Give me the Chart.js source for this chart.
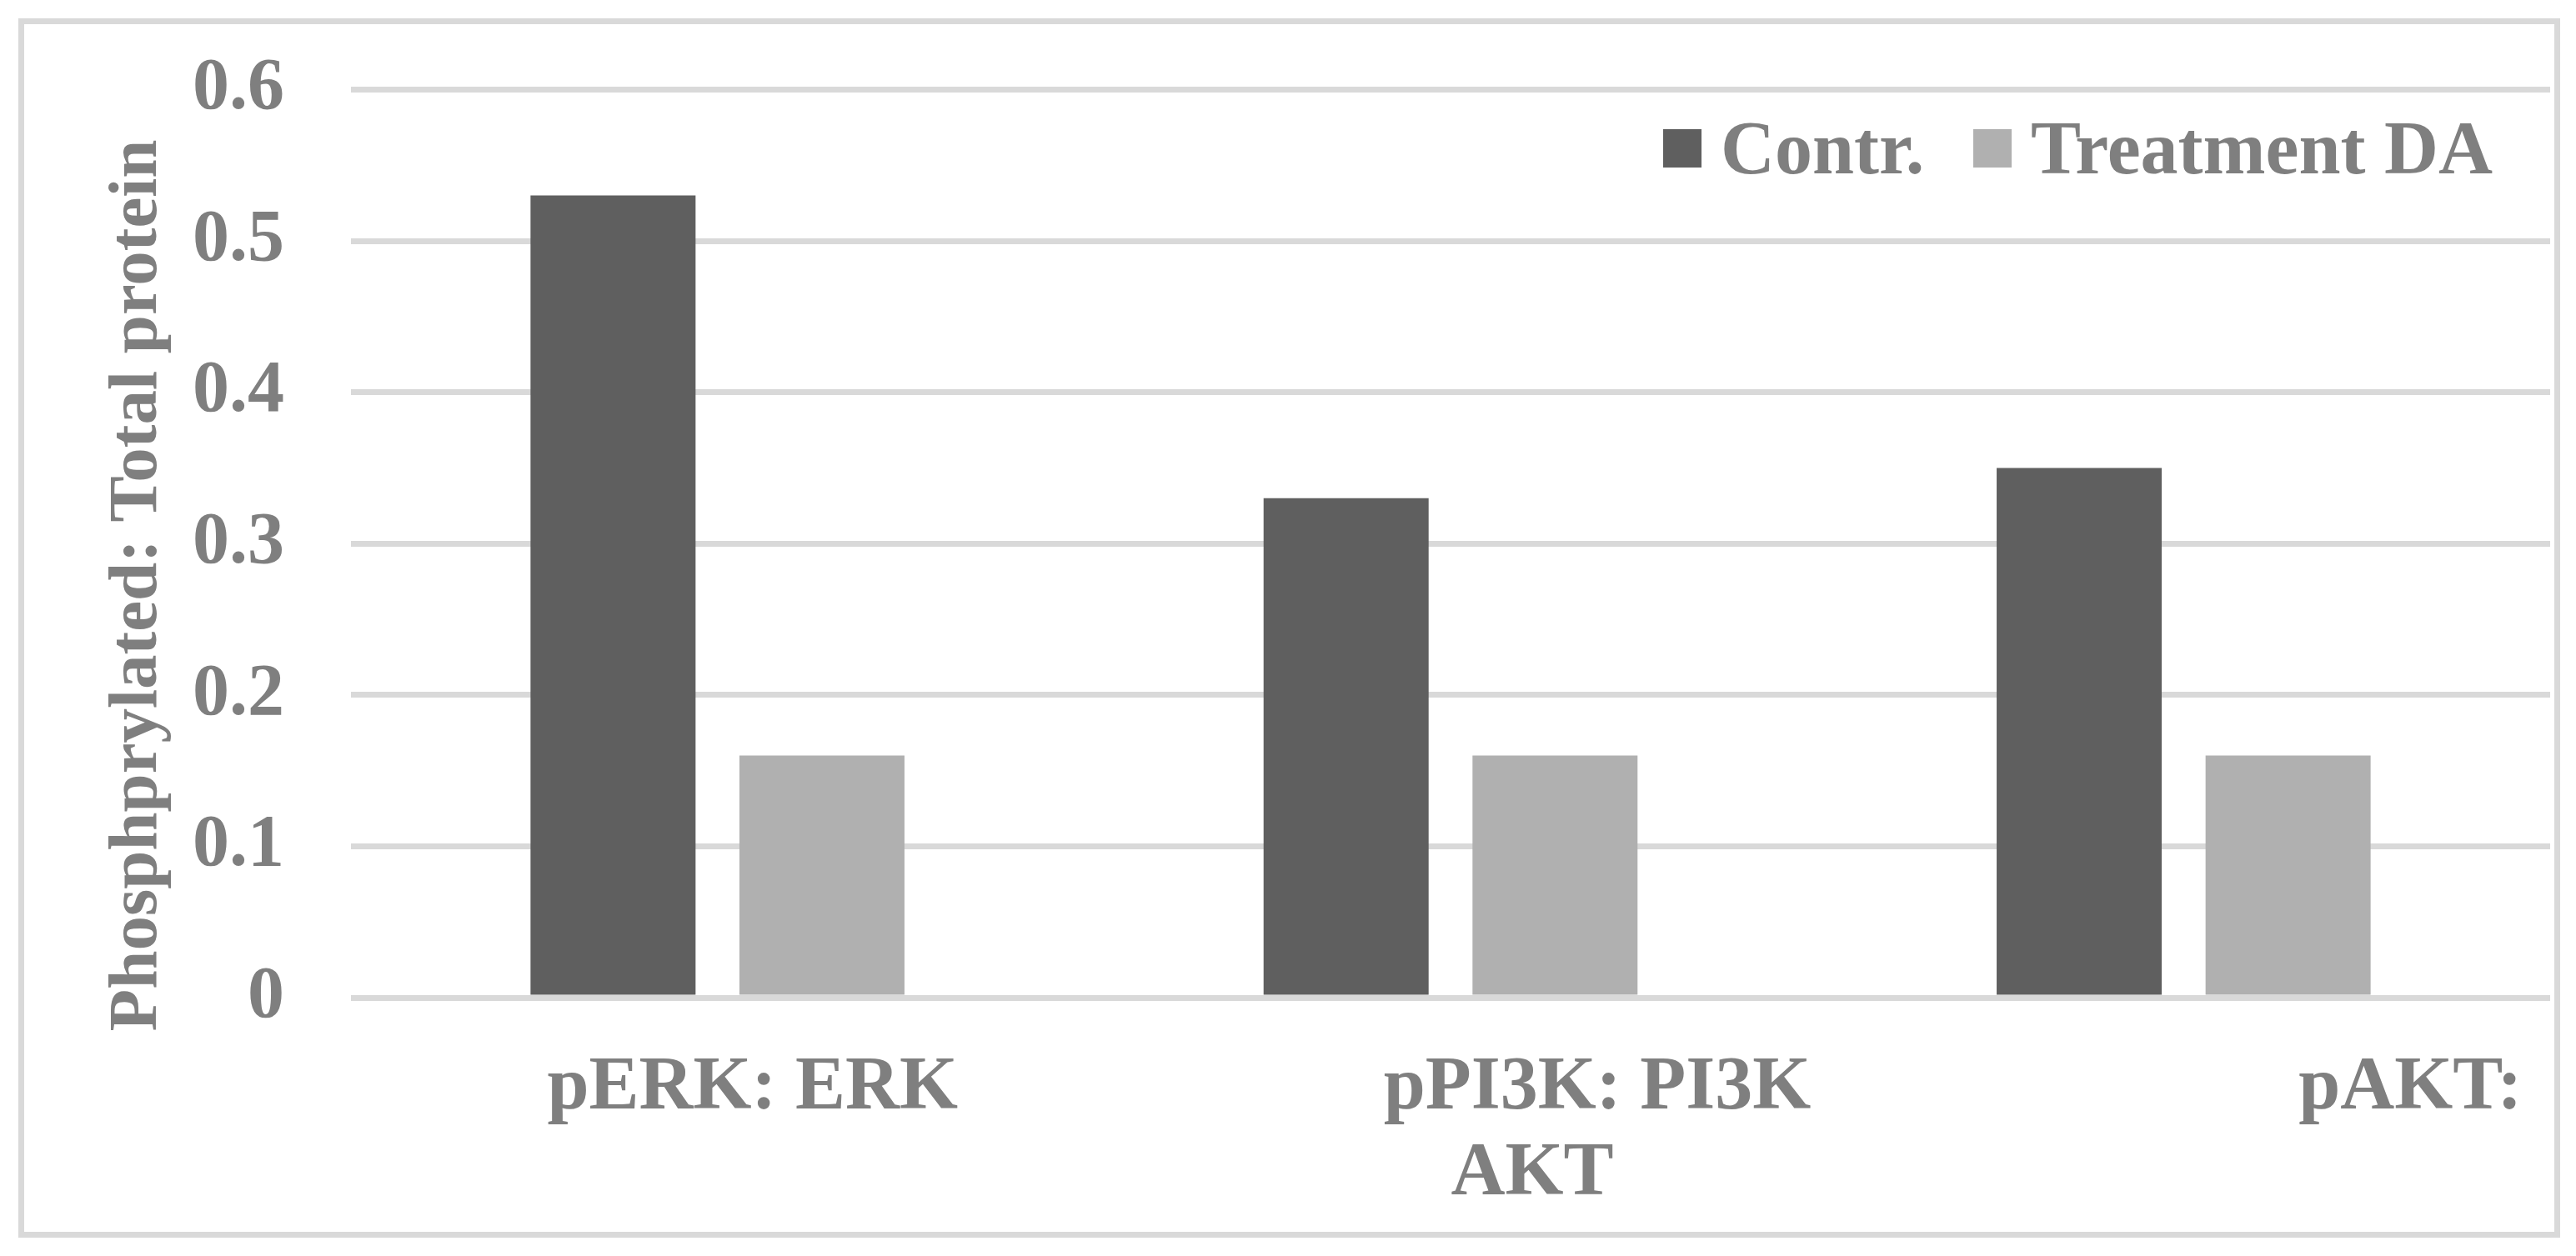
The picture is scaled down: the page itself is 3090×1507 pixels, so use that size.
<!DOCTYPE html>
<html>
<head>
<meta charset="utf-8">
<script src="https://cdn.jsdelivr.net/npm/chart.js@4.4.1/dist/chart.umd.min.js"></script>
<style>
  html, body { margin: 0; padding: 0; background: #ffffff; }
  #wrap { width: 3090px; height: 1507px; }
</style>
</head>
<body>
<div id="wrap"><canvas id="c" width="3090" height="1507"></canvas></div>
<script>
// ---- data ----
const categories = [["pERK: ERK"], ["pPI3K: PI3K", "AKT"], ["pAKT:"]];
const seriesNames = ["Contr.", "Treatment DA"];
const contrValues = [0.53, 0.33, 0.35];
const treatmentValues = [0.16, 0.16, 0.16];
const yTickValues = [0, 0.1, 0.2, 0.3, 0.4, 0.5, 0.6];
const yTitle = "Phosphprylated: Total protein";

// ---- styles ----
const FONT = "'Liberation Serif', 'Times New Roman', Times, serif";
const TEXT = "#7f7f7f";
const GRID = "#d9d9d9";
const seriesColors = ["#5f5f5f", "#b0b0b0"];
const xLabelStyle = { size: 90, firstBaseline: 1330, lineStep: 103, offsets: [[42], [176, 98], [272]] };
const legendStyle = { size: 90, box: 46, boxTop: 155, baseline: 208, boxX: [1995, 2367], gap: 23 };
const titleStyle = { size: 83, x: 187, y: 702.5 };
const frameStyle = { x: 25.5, y: 25.5, w: 3042, h: 1456, lw: 7 };

const framePlugin = {
  id: 'frame',
  beforeDraw(chart) {
    const ctx = chart.ctx;
    ctx.save();
    ctx.fillStyle = '#ffffff';
    ctx.fillRect(0, 0, chart.width, chart.height);
    ctx.strokeStyle = GRID;
    ctx.lineWidth = frameStyle.lw;
    ctx.strokeRect(frameStyle.x, frameStyle.y, frameStyle.w, frameStyle.h);
    ctx.restore();
  }
};

const textPlugin = {
  id: 'texts',
  afterDraw(chart) {
    const ctx = chart.ctx;
    const xs = chart.scales.x;
    ctx.save();
    ctx.fillStyle = TEXT;
    // category labels
    ctx.font = `bold ${xLabelStyle.size}px ${FONT}`;
    ctx.textAlign = 'center';
    ctx.textBaseline = 'alphabetic';
    categories.forEach((lines, i) => {
      const px = xs.getPixelForTick(i);
      lines.forEach((line, j) => {
        ctx.fillText(line, px + xLabelStyle.offsets[i][j], xLabelStyle.firstBaseline + j * xLabelStyle.lineStep);
      });
    });
    // y axis title
    ctx.save();
    ctx.font = `bold ${titleStyle.size}px ${FONT}`;
    ctx.translate(titleStyle.x, titleStyle.y);
    ctx.rotate(-Math.PI / 2);
    ctx.textAlign = 'center';
    ctx.textBaseline = 'alphabetic';
    ctx.fillText(yTitle, 0, 0);
    ctx.restore();
    // legend
    ctx.font = `bold ${legendStyle.size}px ${FONT}`;
    ctx.textAlign = 'left';
    ctx.textBaseline = 'alphabetic';
    chart.data.datasets.forEach((ds, i) => {
      const bx = legendStyle.boxX[i];
      ctx.fillStyle = ds.backgroundColor;
      ctx.fillRect(bx, legendStyle.boxTop, legendStyle.box, legendStyle.box);
      ctx.fillStyle = TEXT;
      ctx.fillText(ds.label, bx + legendStyle.box + legendStyle.gap, legendStyle.baseline);
    });
    ctx.restore();
  }
};

new Chart(document.getElementById('c'), {
  type: 'bar',
  data: {
    labels: categories.map(l => l.join(' ')),
    datasets: [
      { label: seriesNames[0], data: contrValues, backgroundColor: seriesColors[0], borderWidth: 0 },
      { label: seriesNames[1], data: treatmentValues, backgroundColor: seriesColors[1], borderWidth: 0 }
    ]
  },
  options: {
    responsive: false,
    animation: false,
    devicePixelRatio: 1,
    datasets: { bar: { categoryPercentage: 0.57, barPercentage: 0.79 } },
    layout: { padding: { left: 0, right: 31, top: 107.5, bottom: 310 } },
    plugins: { legend: { display: false }, tooltip: { enabled: false } },
    scales: {
      x: {
        grid: { display: false, drawTicks: false },
        border: { display: false },
        ticks: { display: false, padding: 0 }
      },
      y: {
        min: 0,
        max: 0.6,
        afterBuildTicks: s => { s.ticks = yTickValues.map(v => ({ value: v })); },
        afterFit: s => { s.width = 421; },
        grid: { color: GRID, lineWidth: 7, drawTicks: true, tickLength: 80, tickColor: 'rgba(0,0,0,0)' },
        border: { display: false },
        ticks: {
          font: { family: FONT, size: 88, weight: 'bold' },
          color: TEXT,
          padding: 0,
          callback: v => String(v)
        }
      }
    }
  },
  plugins: [framePlugin, textPlugin]
});
</script>
</body>
</html>
